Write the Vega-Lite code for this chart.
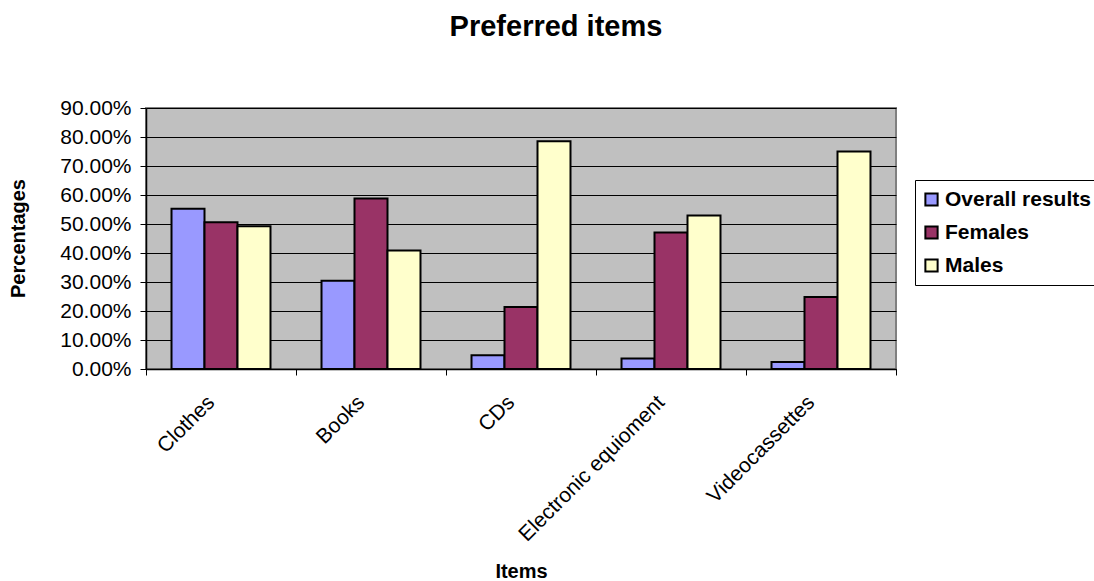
{
  "$schema": "https://vega.github.io/schema/vega-lite/v6.json",
  "width": 750,
  "height": 261,
  "autosize": {"type": "none"},
  "padding": {"left": 146, "top": 108, "right": 198, "bottom": 212},
  "background": "white",
  "title": {
    "text": "Preferred items",
    "font": "Arial",
    "fontSize": 29,
    "fontWeight": "bold",
    "color": "black",
    "anchor": "middle",
    "frame": "group",
    "dx": 35,
    "offset": 55
  },
  "data": {
    "values": [
      {"item": "Clothes", "group": "Overall results", "pct": 0.553},
      {"item": "Clothes", "group": "Females", "pct": 0.506},
      {"item": "Clothes", "group": "Males", "pct": 0.492},
      {"item": "Books", "group": "Overall results", "pct": 0.304},
      {"item": "Books", "group": "Females", "pct": 0.588},
      {"item": "Books", "group": "Males", "pct": 0.409},
      {"item": "CDs", "group": "Overall results", "pct": 0.047},
      {"item": "CDs", "group": "Females", "pct": 0.214},
      {"item": "CDs", "group": "Males", "pct": 0.785},
      {"item": "Electronic equioment", "group": "Overall results", "pct": 0.036},
      {"item": "Electronic equioment", "group": "Females", "pct": 0.471},
      {"item": "Electronic equioment", "group": "Males", "pct": 0.529},
      {"item": "Videocassettes", "group": "Overall results", "pct": 0.024},
      {"item": "Videocassettes", "group": "Females", "pct": 0.248},
      {"item": "Videocassettes", "group": "Males", "pct": 0.75}
    ]
  },
  "mark": {"type": "bar", "stroke": "black", "strokeWidth": 2},
  "encoding": {
    "x": {
      "field": "item",
      "type": "nominal",
      "sort": null,
      "scale": {"paddingInner": 0, "paddingOuter": 0},
      "axis": {
        "title": "Items",
        "titleFont": "Arial",
        "titleFontSize": 20,
        "titleFontWeight": "bold",
        "titleColor": "black",
        "titleX": 375,
        "titleY": 208,
        "titleAlign": "center",
        "titleBaseline": "alphabetic",
        "labelFont": "Arial",
        "labelFontSize": 21,
        "labelColor": "black",
        "labelAngle": -45,
        "labelAlign": "right",
        "labelBaseline": "middle",
        "labelPadding": 24,
        "labelOffset": -10,
        "labelLimit": 400,
        "tickBand": "extent",
        "tickSize": 6,
        "tickColor": "black",
        "domainColor": "black",
        "domainWidth": 1.5,
        "grid": false
      }
    },
    "xOffset": {
      "field": "group",
      "type": "nominal",
      "sort": ["Overall results", "Females", "Males"],
      "scale": {"paddingInner": 0, "paddingOuter": 0.773}
    },
    "y": {
      "field": "pct",
      "type": "quantitative",
      "scale": {"domain": [0, 0.9], "nice": false},
      "axis": {
        "title": "Percentages",
        "titleFont": "Arial",
        "titleFontSize": 20,
        "titleFontWeight": "bold",
        "titleColor": "black",
        "titleX": -128,
        "titleY": 130,
        "titleAngle": -90,
        "titleAlign": "center",
        "titleBaseline": "middle",
        "values": [0, 0.1, 0.2, 0.3, 0.4, 0.5, 0.6, 0.7, 0.8, 0.9],
        "format": ".2%",
        "labelFont": "Arial",
        "labelFontSize": 21,
        "labelColor": "black",
        "labelPadding": 9,
        "tickSize": 6,
        "tickColor": "black",
        "domainColor": "black",
        "domainWidth": 1.5,
        "grid": true,
        "gridColor": "black",
        "gridWidth": 1
      }
    },
    "color": {
      "field": "group",
      "type": "nominal",
      "sort": ["Overall results", "Females", "Males"],
      "scale": {
        "domain": ["Overall results", "Females", "Males"],
        "range": ["#9999FF", "#993366", "#FFFFCC"]
      },
      "legend": {
        "title": null,
        "orient": "none",
        "legendX": 769,
        "legendY": 72,
        "fillColor": "white",
        "strokeColor": "black",
        "padding": 9,
        "rowPadding": 11,
        "symbolType": "square",
        "symbolSize": 150,
        "symbolStrokeColor": "black",
        "symbolStrokeWidth": 2,
        "symbolOffset": -3,
        "labelFont": "Arial",
        "labelFontSize": 21,
        "labelFontWeight": "bold",
        "labelColor": "black",
        "labelOffset": 3,
        "labelLimit": 300
      }
    }
  },
  "config": {
    "view": {"fill": "#C0C0C0", "stroke": "#808080", "strokeWidth": 2}
  }
}
